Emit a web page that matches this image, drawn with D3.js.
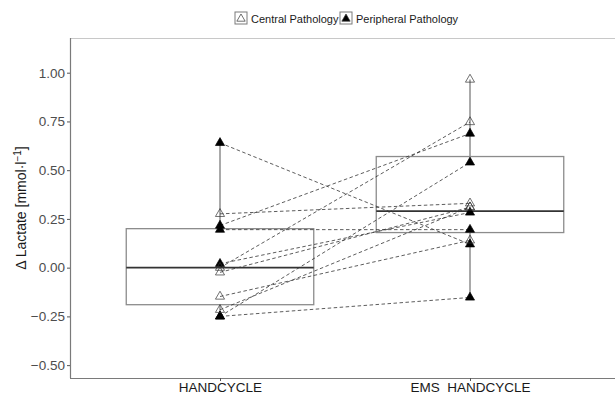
<!DOCTYPE html>
<html>
<head>
<meta charset="utf-8">
<script src="https://cdn.jsdelivr.net/npm/d3@7"></script>
<style>
  body { margin: 0; background: #fff; }
  svg { display: block; font-family: "Liberation Sans", Arial, sans-serif; }
</style>
</head>
<body>
<svg id="chart" width="615" height="394"></svg>
<script>
// conditions on the x axis
const conditions = ['HANDCYCLE', 'EMS  HANDCYCLE'];
const pathologies = ['Central Pathology', 'Peripheral Pathology'];

// one entry per subject: pathology, value in HANDCYCLE, value in EMS HANDCYCLE
const subjectPathology = ['Peripheral Pathology', 'Peripheral Pathology', 'Peripheral Pathology',
    'Peripheral Pathology', 'Peripheral Pathology', 'Peripheral Pathology',
    'Central Pathology', 'Central Pathology', 'Central Pathology',
    'Central Pathology', 'Central Pathology', 'Central Pathology'];
const handcycleValues = [0.64, 0.216, 0.195, 0.02, -0.25, -0.25, 0.276, 0.00, -0.024, -0.148, -0.216, null];
const emsValues = [0.12, 0.688, 0.195, 0.283, -0.153, 0.54, 0.33, 0.747, 0.31, 0.14, 0.31, 0.965];

// boxplot statistics per condition
const boxLower = [-0.19, 0.18];
const boxMedian = [0.0, 0.29];
const boxUpper = [0.20, 0.57];
const whiskerLow = [-0.25, -0.153];
const whiskerHigh = [0.64, 0.965];

const yTicks = [-0.5, -0.25, 0, 0.25, 0.5, 0.75, 1.0];

const svg = d3.select('#chart');
const plotLeft = 70, plotRight = 620, plotTop = 38, plotBottom = 378;

const y = d3.scaleLinear().domain([-0.566, 1.178]).range([plotBottom, plotTop]);
const x = d3.scalePoint().domain(conditions).range([plotLeft, plotRight]).padding(0.6);
const boxWidth = x.step() * 0.75;

const plot = svg.append('g');

// panel border (top)
plot.append('line')
    .attr('x1', plotLeft).attr('x2', 615).attr('y1', plotTop + 0.5).attr('y2', plotTop + 0.5)
    .attr('stroke', '#c8c8c8').attr('stroke-width', 1);

// boxes
conditions.forEach((c, i) => {
    const cx = x(c);
    const g = plot.append('g').attr('class', 'box');
    g.append('line')
        .attr('x1', cx).attr('x2', cx)
        .attr('y1', y(whiskerHigh[i])).attr('y2', y(boxUpper[i]))
        .attr('stroke', '#555').attr('stroke-width', 1);
    g.append('line')
        .attr('x1', cx).attr('x2', cx)
        .attr('y1', y(boxLower[i])).attr('y2', y(whiskerLow[i]))
        .attr('stroke', '#555').attr('stroke-width', 1);
    g.append('rect')
        .attr('x', cx - boxWidth / 2).attr('width', boxWidth)
        .attr('y', y(boxUpper[i])).attr('height', y(boxLower[i]) - y(boxUpper[i]))
        .attr('fill', 'none').attr('stroke', '#8c8c8c').attr('stroke-width', 1.3);
    g.append('line')
        .attr('x1', cx - boxWidth / 2).attr('x2', cx + boxWidth / 2)
        .attr('y1', y(boxMedian[i])).attr('y2', y(boxMedian[i]))
        .attr('stroke', '#333').attr('stroke-width', 1.8);
});

// paired dashed lines
const subjects = handcycleValues.map((v, i) => ({
    type: subjectPathology[i],
    values: [v, emsValues[i]]
}));

plot.append('g')
    .selectAll('line')
    .data(subjects.filter(s => s.values[0] !== null && s.values[1] !== null))
    .join('line')
    .attr('x1', x(conditions[0])).attr('x2', x(conditions[1]))
    .attr('y1', d => y(d.values[0])).attr('y2', d => y(d.values[1]))
    .attr('stroke', '#333').attr('stroke-width', 0.8)
    .attr('stroke-dasharray', '3.5,2.5');

// points
const triangle = d3.symbol().type(d3.symbolTriangle).size(36);
const points = [];
subjects.forEach(s => s.values.forEach((v, j) => {
    if (v !== null) points.push({type: s.type, cond: conditions[j], value: v});
}));

plot.append('g')
    .selectAll('path')
    .data(points)
    .join('path')
    .attr('d', triangle)
    .attr('transform', d => `translate(${x(d.cond)},${y(d.value)})`)
    .attr('fill', d => d.type === pathologies[1] ? '#000' : 'none')
    .attr('stroke', d => d.type === pathologies[1] ? '#000' : '#333')
    .attr('stroke-width', 0.7);

// y axis
const yAxis = svg.append('g')
    .attr('transform', `translate(${plotLeft},0)`)
    .call(d3.axisLeft(y).tickValues(yTicks).tickFormat(d3.format('.2f')).tickSize(3).tickPadding(2));
yAxis.select('.domain').attr('stroke', '#7a7a7a').attr('stroke-width', 1.2)
    .attr('d', `M0.5,${plotTop}V${plotBottom}`);
yAxis.selectAll('.tick line').attr('stroke', '#555');
yAxis.selectAll('.tick text').attr('fill', '#4d4d4d').style('font-size', '13.5px')
    .style('font-family', '"Liberation Sans", Arial, sans-serif');

// x axis
const xAxis = svg.append('g')
    .attr('transform', `translate(0,${plotBottom})`)
    .call(d3.axisBottom(x).tickSize(3).tickPadding(1));
xAxis.select('.domain').attr('stroke', '#7a7a7a').attr('stroke-width', 1.2)
    .attr('d', `M${plotLeft},0.5H615`);
xAxis.selectAll('.tick line').attr('stroke', '#555');
xAxis.selectAll('.tick text').attr('fill', '#1a1a1a').style('font-size', '13.5px')
    .style('font-family', '"Liberation Sans", Arial, sans-serif')
    .style('white-space', 'pre');

// y title
const yTitle = svg.append('text')
    .attr('transform', `translate(26,208) rotate(-90)`)
    .attr('text-anchor', 'middle')
    .attr('fill', '#1a1a1a')
    .style('font-size', '14px');
yTitle.append('tspan').text('Δ Lactate [mmol·l');
yTitle.append('tspan').attr('dy', -5).style('font-size', '10px').text('−1');
yTitle.append('tspan').attr('dy', 5).text(']');

// legend
const legendItems = [
    {label: pathologies[0], x: 235},
    {label: pathologies[1], x: 340}
];
const legend = svg.append('g');
legendItems.forEach((it, i) => {
    const g = legend.append('g').attr('transform', `translate(${it.x},12)`);
    g.append('rect').attr('width', 12).attr('height', 12)
        .attr('fill', '#fff').attr('stroke', '#7a7a7a').attr('stroke-width', 1);
    g.append('path')
        .attr('d', d3.symbol().type(d3.symbolTriangle).size(30))
        .attr('transform', 'translate(6,6.8)')
        .attr('fill', i === 1 ? '#000' : 'none')
        .attr('stroke', '#333').attr('stroke-width', 0.7);
    g.append('text')
        .attr('x', 16).attr('y', 10.5)
        .attr('fill', '#1a1a1a')
        .style('font-size', '11px')
        .text(it.label);
});
</script>
</body>
</html>
